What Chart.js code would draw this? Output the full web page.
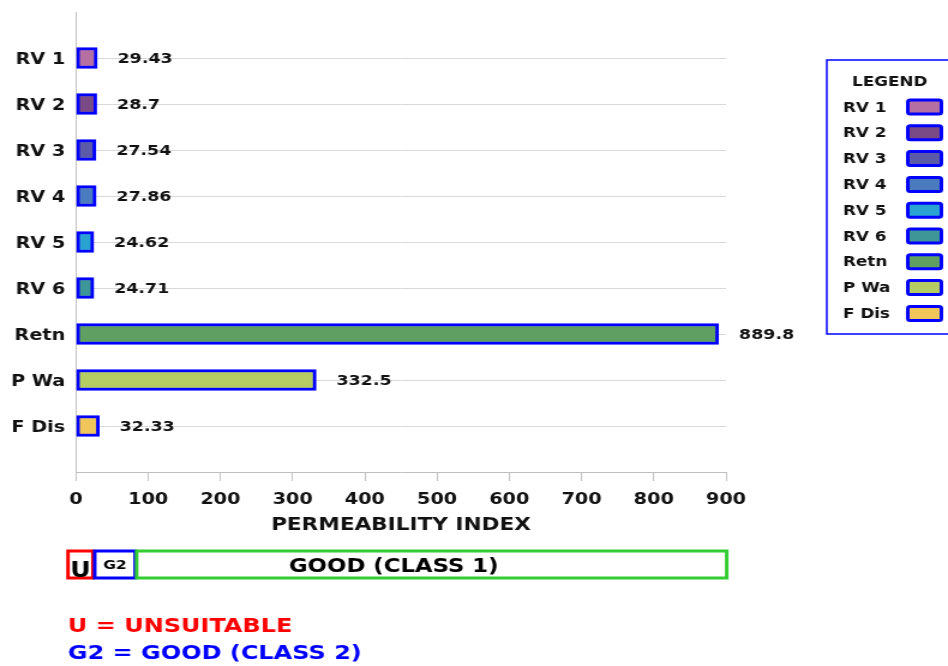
<!DOCTYPE html>
<html>
<head>
<meta charset="utf-8">
<script src="https://cdn.jsdelivr.net/npm/chart.js@4/dist/chart.umd.min.js"></script>
<style>
  html, body { margin: 0; padding: 0; background: #ffffff; overflow: hidden; }
  #wrap { width: 790px; height: 666px; transform: scaleX(1.2); transform-origin: 0 0; }
  canvas { display: block; }
</style>
</head>
<body>
<div id="wrap"><canvas id="chart" width="790" height="666"></canvas></div>
<script>
// Permeability index per sample
const categories = ['RV 1', 'RV 2', 'RV 3', 'RV 4', 'RV 5', 'RV 6', 'Retn', 'P Wa', 'F Dis'];
const permeability = [29.43, 28.7, 27.54, 27.86, 24.62, 24.71, 889.8, 332.5, 32.33];
const barColors = ['#b56fa3', '#7a4a86', '#5a5aa8', '#4a7bbf', '#2aa3d3', '#3f9696', '#5fa062', '#b5cc64', '#f0c55a'];

// Suitability classes shown under the axis (extent in permeability-index units)
const classLabels = ['U', 'G2', 'GOOD (CLASS 1)'];
const classFrom = [-11, 26, 84];
const classTo = [23.5, 82, 901];
const classColors = ['#ff0000', '#0000ff', '#33cc33'];
const classNotes = ['U = UNSUITABLE', 'G2 = GOOD (CLASS 2)'];
const noteColors = ['#ff0000', '#0000ff'];

const BORDER_BLUE = '#0000ff';
const FAMILY = '"DejaVu Sans", Verdana, sans-serif';
const wide = s => 'bold ' + s + 'px ' + FAMILY;

// Value labels to the right of each bar
const valueLabels = {
  id: 'valueLabels',
  afterDatasetsDraw(chart) {
    const ctx = chart.ctx;
    const meta = chart.getDatasetMeta(0);
    ctx.save();
    ctx.font = wide(14.5);
    ctx.fillStyle = '#111111';
    ctx.textAlign = 'left';
    ctx.textBaseline = 'middle';
    meta.data.forEach((bar, i) => {
      ctx.fillText(String(permeability[i]), bar.x + 17, bar.y + 1);
    });
    ctx.restore();
  }
};

// Boxed legend at the right and class bands below the axis
const extras = {
  id: 'extras',
  afterDraw(chart) {
    const ctx = chart.ctx;
    const xs = chart.scales.x;
    ctx.save();

    // legend frame
    ctx.strokeStyle = BORDER_BLUE;
    ctx.lineWidth = 1.5;
    ctx.strokeRect(689, 60, 130, 274);
    ctx.fillStyle = '#111111';
    ctx.font = wide(14);
    ctx.textAlign = 'center';
    ctx.textBaseline = 'middle';
    ctx.fillText('LEGEND', 741.5, 82);
    ctx.textAlign = 'left';
    categories.forEach((c, i) => {
      const y = 107 + i * 25.8;
      ctx.fillStyle = '#111111';
      ctx.fillText(c, 702.5, y + 1);
      ctx.beginPath();
      ctx.roundRect(756.5, y - 7, 28, 14, 2);
      ctx.fillStyle = barColors[i];
      ctx.fill();
      ctx.lineWidth = 3;
      ctx.strokeStyle = BORDER_BLUE;
      ctx.stroke();
    });

    // class bands
    const top = 551, bottom = 578;
    classLabels.forEach((lab, i) => {
      const x0 = xs.getPixelForValue(classFrom[i]);
      const x1 = xs.getPixelForValue(classTo[i]);
      ctx.lineWidth = 3;
      ctx.strokeStyle = classColors[i];
      ctx.strokeRect(x0, top, x1 - x0, bottom - top);
    });
    ctx.fillStyle = '#000000';
    ctx.textAlign = 'center';
    ctx.textBaseline = 'alphabetic';
    ctx.font = wide(21);
    ctx.fillText(classLabels[0], (xs.getPixelForValue(classFrom[0]) + xs.getPixelForValue(classTo[0])) / 2, 577);
    ctx.textBaseline = 'middle';
    ctx.font = wide(13);
    ctx.fillText(classLabels[1], (xs.getPixelForValue(classFrom[1]) + xs.getPixelForValue(classTo[1])) / 2, 566);
    ctx.font = wide(19);
    ctx.fillText(classLabels[2], xs.getPixelForValue(440), 567);

    // notes
    ctx.textAlign = 'left';
    ctx.font = wide(20);
    classNotes.forEach((t, i) => {
      ctx.fillStyle = noteColors[i];
      ctx.fillText(t, 56.5, 627 + i * 27);
    });
    ctx.restore();
  }
};

new Chart(document.getElementById('chart'), {
  type: 'bar',
  data: {
    datasets: [{
      data: permeability.map((v, i) => ({ x: v, y: i + 1 })),
      backgroundColor: barColors,
      borderColor: BORDER_BLUE,
      borderWidth: 3,
      borderSkipped: false,
      barThickness: 21
    }]
  },
  options: {
    indexAxis: 'y',
    responsive: false,
    animation: false,
    devicePixelRatio: 1,
    layout: { padding: { top: 12, left: 0, right: 185, bottom: 130 } },
    plugins: { legend: { display: false }, tooltip: { enabled: false } },
    scales: {
      x: {
        type: 'linear',
        position: 'bottom',
        min: 0,
        max: 900,
        afterFit: s => { s.height = 64; s.paddingLeft = 0; s.paddingRight = 0; },
        ticks: {
          stepSize: 100,
          padding: 9,
          color: '#111111',
          font: { family: FAMILY, size: 16, weight: 'bold' }
        },
        grid: { drawOnChartArea: false, drawTicks: true, tickLength: 9, color: '#bfbfbf' },
        border: { display: true, color: '#bfbfbf', width: 1 },
        title: {
          display: true,
          text: 'PERMEABILITY INDEX',
          color: '#111111',
          padding: { top: 0, bottom: 0 },
          font: { family: FAMILY, size: 18, weight: 'bold' }
        }
      },
      y: {
        type: 'linear',
        position: 'left',
        offset: false,
        min: 0,
        max: 10,
        reverse: true,
        afterFit: s => { s.width = 63.3; s.paddingTop = 0; s.paddingBottom = 0; },
        ticks: {
          stepSize: 1,
          autoSkip: false,
          padding: 9,
          labelOffset: 2,
          color: '#111111',
          font: { family: FAMILY, size: 16, weight: 'bold' },
          callback: v => categories[v - 1] || ''
        },
        grid: {
          offset: false,
          drawTicks: false,
          color: c => (c.tick && c.tick.value >= 1 && c.tick.value <= 9) ? '#d9d9d9' : 'rgba(0,0,0,0)'
        },
        border: { display: true, color: '#bfbfbf', width: 1 }
      }
    }
  },
  plugins: [valueLabels, extras]
});
</script>
</body>
</html>
